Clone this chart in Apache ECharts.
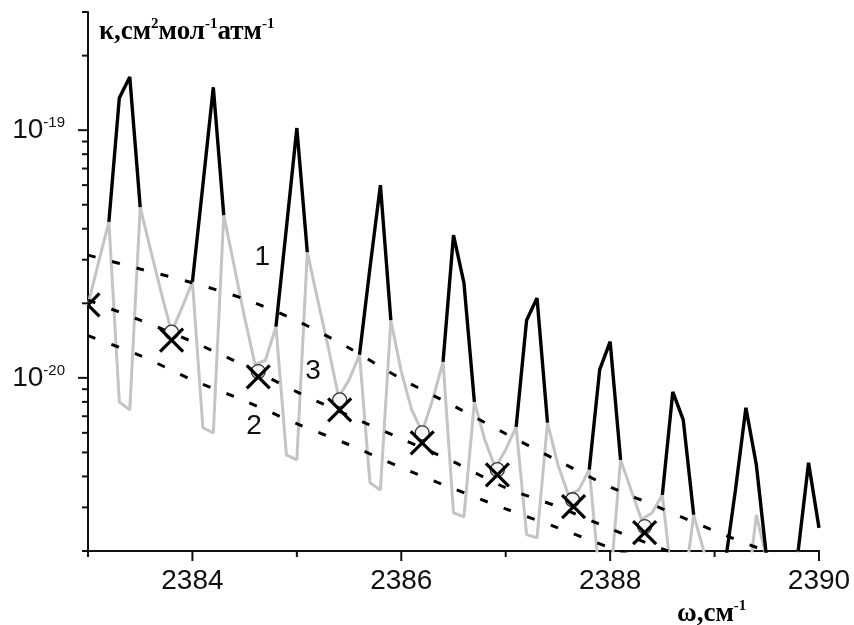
<!DOCTYPE html>
<html>
<head>
<meta charset="utf-8">
<script src="https://cdn.jsdelivr.net/npm/echarts@6/dist/echarts.min.js"></script>
<style>
html, body { margin: 0; padding: 0; background: #fff; }
#chart { width: 854px; height: 625px; }
</style>
</head>
<body>
<div id="chart"></div>
<script>
// Wavenumber grid of the computed spectra, cm^-1
const omega = [
  2383.0, 2383.1, 2383.2, 2383.3, 2383.4, 2383.5, 2383.6, 2383.7, 2383.8, 2383.9,
  2384.0, 2384.1, 2384.2, 2384.3, 2384.4, 2384.5, 2384.6, 2384.7, 2384.8, 2384.9,
  2385.0, 2385.1, 2385.2, 2385.3, 2385.4, 2385.5, 2385.6, 2385.7, 2385.8, 2385.9,
  2386.0, 2386.1, 2386.2, 2386.3, 2386.4, 2386.5, 2386.6, 2386.7, 2386.8, 2386.9,
  2387.0, 2387.1, 2387.2, 2387.3, 2387.4, 2387.5, 2387.6, 2387.7, 2387.8, 2387.9,
  2388.0, 2388.1, 2388.2, 2388.3, 2388.4, 2388.5, 2388.6, 2388.7, 2388.8, 2388.9,
  2389.0, 2389.1, 2389.2, 2389.3, 2389.4, 2389.5, 2389.6, 2389.7, 2389.8, 2389.9,
  2390.0
];

// Grey spectrum (line cores removed), cm^2 mol^-1 atm^-1
const kGrey = [
  1.97e-20, 2.91e-20, 4.26e-20, 8.00e-21, 7.43e-21, 4.89e-20, 3.28e-20, 2.22e-20, 1.53e-20, 1.92e-20,
  2.44e-20, 6.29e-21, 6.00e-21, 4.54e-20, 2.83e-20, 1.75e-20, 1.13e-20, 1.18e-20, 1.61e-20, 4.89e-21,
  4.67e-21, 3.22e-20, 2.06e-20, 1.33e-20, 8.38e-21, 9.81e-21, 1.24e-20, 3.77e-21, 3.53e-21, 1.71e-20,
  1.06e-20, 7.43e-21, 6.06e-21, 8.15e-21, 1.16e-20, 2.85e-21, 2.75e-21, 8.00e-21, 5.62e-21, 4.34e-21,
  5.13e-21, 6.34e-21, 2.33e-21, 2.26e-21, 6.59e-21, 4.46e-21, 3.37e-21, 3.53e-21, 4.26e-21, 1.53e-21,
  1.46e-21, 4.67e-21, 3.53e-21, 2.68e-21, 2.85e-21, 3.37e-21, 1.40e-21, 1.33e-21, 2.80e-21, 1.98e-21,
  1.61e-21, 1.76e-21, 1.27e-21, 1.22e-21, 2.80e-21, 1.85e-21, 1.40e-21, 1.27e-21, 1.99e-21, 1.16e-21,
  1.11e-21
];

// Black spectrum: line cores only (null where it coincides with the grey one)
const kBlack = [
  null, null, 4.26e-20, 1.35e-19, 1.64e-19, 4.89e-20, null, null, null, null,
  2.44e-20, 6.00e-20, 1.49e-19, 4.54e-20, null, null, null, null, 1.61e-20, 4.03e-20,
  1.02e-19, 3.22e-20, null, null, null, null, 1.24e-20, 2.78e-20, 6.00e-20, 1.71e-20,
  null, null, null, null, 1.16e-20, 3.77e-20, 2.42e-20, 8.00e-21, null, null,
  null, 6.34e-21, 1.71e-20, 2.10e-20, 6.59e-21, null, null, null, 4.26e-21, 1.08e-20,
  1.40e-20, 4.67e-21, null, null, null, 3.37e-21, 8.78e-21, 6.77e-21, 2.80e-21, null,
  null, 1.76e-21, 3.53e-21, 7.57e-21, 4.46e-21, 1.85e-21, null, null, 1.99e-21, 4.54e-21,
  2.48e-21
];

// Model curves 1, 2, 3 (dashed)
const curveOmega = [2383.0, 2383.5, 2384.0, 2384.5, 2385.0, 2385.5, 2386.0, 2386.5, 2387.0, 2387.5, 2388.0, 2388.5, 2389.0, 2389.5, 2390.0];
const curve1 = [3.13e-20, 2.75e-20, 2.42e-20, 2.08e-20, 1.70e-20, 1.32e-20, 9.91e-21, 7.71e-21, 5.95e-21, 4.63e-21, 3.63e-21, 2.96e-21, 2.41e-21, 1.99e-21, 1.64e-21];
const curve2 = [1.48e-20, 1.23e-20, 9.81e-21, 8.08e-21, 6.53e-21, 5.37e-21, 4.34e-21, 3.57e-21, 2.96e-21, 2.48e-21, 2.06e-21, 1.73e-21, 1.45e-21];
const curve3 = [2.06e-20, 1.71e-20, 1.40e-20, 1.12e-20, 8.78e-21, 7.03e-21, 5.68e-21, 4.58e-21, 3.60e-21, 3.02e-21, 2.46e-21, 2.04e-21, 1.68e-21, 1.40e-21];

// Minima between lines: circles (grey spectrum) and crosses (experiment)
const minOmega = [2383.80, 2384.63, 2385.41, 2386.20, 2386.92, 2387.64, 2388.33];
const minCircle = [1.53e-20, 1.06e-20, 8.15e-21, 6.00e-21, 4.26e-21, 3.22e-21, 2.51e-21];
const crossOmega = [2383.0, 2383.80, 2384.63, 2385.41, 2386.20, 2386.92, 2387.65, 2388.33];
const crossK = [1.97e-20, 1.42e-20, 1.01e-20, 7.43e-21, 5.47e-21, 4.06e-21, 3.02e-21, 2.37e-21];

// Curve numbers
const curveLabels = ['1', '2', '3'];
const curveLabelOmega = [2384.67, 2384.59, 2385.155];
const curveLabelK = [3.08e-20, 6.40e-21, 1.06e-20];

// Axis range and ticks
const xMin = 2383, xMax = 2390;
const yMin = 2e-21, yMax = 3e-19;
const xTicks = [2383, 2384, 2385, 2386, 2387, 2388, 2389, 2390];
const yMajorTicks = [1e-20, 1e-19];
const yMinorTicks = [2e-21, 3e-21, 4e-21, 5e-21, 6e-21, 7e-21, 8e-21, 9e-21,
                     2e-20, 3e-20, 4e-20, 5e-20, 6e-20, 7e-20, 8e-20, 9e-20,
                     2e-19, 3e-19];

// The log axis works in units of 1e-21 to keep its rounding well away from zero
const UNIT_EXP = -21;
const UNIT = 1e-21;
const u = k => (k === null ? '-' : k / UNIT);

const SANS = '"Liberation Sans", Arial, sans-serif';
const SERIF = '"Liberation Serif", "Times New Roman", serif';
const INK = '#111';

const tickData = [];
xTicks.forEach(v => tickData.push([v, u(yMin), v % 2 === 0 ? 1 : 0]));
yMajorTicks.forEach(v => tickData.push([xMin, u(v), 3]));
yMinorTicks.forEach(v => tickData.push([xMin, u(v), 2]));

const chart = echarts.init(document.getElementById('chart'), null, { renderer: 'canvas' });

const supRich = {
  b: { fontSize: 28, fontFamily: SANS, color: INK, lineHeight: 30 },
  s: { fontSize: 15, fontFamily: SANS, color: INK, lineHeight: 8, verticalAlign: 'top' }
};

const titleRich = {
  t: { fontSize: 27, fontFamily: SERIF, fontWeight: 'bold', color: INK, lineHeight: 30 },
  s: { fontSize: 15, fontFamily: SERIF, fontWeight: 'bold', color: INK, lineHeight: 14, verticalAlign: 'top' }
};

// short, widely spaced dashes of the model curves
const dashStyle = { color: '#000', width: 3, type: [8, 17] };

chart.setOption({
  animation: false,
  backgroundColor: '#fff',
  grid: { left: 88, right: 35, top: 12, bottom: 74, containLabel: false },
  xAxis: {
    type: 'value', min: xMin, max: xMax, interval: 1,
    axisLine: { show: true, lineStyle: { color: INK, width: 2 } },
    axisTick: { show: false },
    splitLine: { show: false },
    axisLabel: {
      margin: 16, fontSize: 28, fontFamily: SANS, color: INK,
      formatter: v => (Math.round(v) % 2 === 0 ? String(v) : '')
    }
  },
  yAxis: {
    type: 'log', logBase: 10, min: u(yMin), max: u(yMax),
    axisLine: { show: true, lineStyle: { color: INK, width: 2 } },
    axisTick: { show: false },
    splitLine: { show: false },
    axisLabel: {
      margin: 23,
      rich: supRich,
      formatter: v => {
        const e = Math.log10(v);
        if (Math.abs(e - Math.round(e)) > 1e-6) return '';
        return '{b|10}{s|' + (Math.round(e) + UNIT_EXP) + '}';
      }
    }
  },
  graphic: [
    {
      type: 'text', left: 99, top: 17, silent: true,
      style: { text: '{t|κ,см}{s|2}{t|мол}{s|-1}{t|атм}{s|-1}', rich: titleRich }
    },
    {
      type: 'text', left: 677, top: 599, silent: true,
      style: { text: '{t|ω,см}{s|-1}', rich: titleRich }
    }
  ],
  series: [
    {
      name: 'grey', type: 'line', z: 2, symbol: 'none',
      data: omega.map((w, i) => [w, u(kGrey[i])]),
      lineStyle: { color: '#c4c4c4', width: 3 }
    },
    {
      name: 'black', type: 'line', z: 3, symbol: 'none', connectNulls: false,
      data: omega.map((w, i) => [w, u(kBlack[i])]),
      lineStyle: { color: '#000', width: 3.4 }
    },
    {
      name: 'c1', type: 'line', z: 4, symbol: 'none', smooth: 0.3,
      data: curve1.map((k, i) => [curveOmega[i], u(k)]),
      lineStyle: dashStyle
    },
    {
      name: 'c2', type: 'line', z: 4, symbol: 'none', smooth: 0.3,
      data: curve2.map((k, i) => [curveOmega[i], u(k)]),
      lineStyle: dashStyle
    },
    {
      name: 'c3', type: 'line', z: 4, symbol: 'none', smooth: 0.3,
      data: curve3.map((k, i) => [curveOmega[i], u(k)]),
      lineStyle: dashStyle
    },
    {
      name: 'minima', type: 'scatter', z: 5, symbol: 'circle', symbolSize: 14,
      data: minCircle.map((k, i) => [minOmega[i], u(k)]),
      itemStyle: { color: '#f5f5f5', borderColor: '#333', borderWidth: 1.3, opacity: 1 }
    },
    {
      name: 'cross', type: 'custom', z: 6, clip: true, silent: true,
      data: crossK.map((k, i) => [crossOmega[i], u(k)]),
      renderItem: (params, api) => {
        const p = api.coord([api.value(0), api.value(1)]);
        const r = 11.5;
        const st = { stroke: '#000', lineWidth: 3.2, fill: null };
        return {
          type: 'group',
          children: [
            { type: 'line', shape: { x1: p[0] - r, y1: p[1] - r, x2: p[0] + r, y2: p[1] + r }, style: st },
            { type: 'line', shape: { x1: p[0] - r, y1: p[1] + r, x2: p[0] + r, y2: p[1] - r }, style: st }
          ]
        };
      }
    },
    {
      name: 'labels', type: 'scatter', z: 7, symbolSize: 1, silent: true,
      data: curveLabels.map((t, i) => [curveLabelOmega[i], u(curveLabelK[i]), t]),
      itemStyle: { color: 'rgba(0,0,0,0)', opacity: 1 },
      label: {
        show: true, position: 'inside', fontSize: 28, fontFamily: SANS, color: INK,
        opacity: 1, textBorderWidth: 0,
        formatter: p => p.value[2]
      }
    },
    {
      name: 'ticks', type: 'custom', z: 8, clip: false, silent: true,
      data: tickData,
      renderItem: (params, api) => {
        const p = api.coord([api.value(0), api.value(1)]);
        const kind = api.value(2);
        let shape;
        if (kind === 0 || kind === 1) {
          const len = kind === 1 ? 10 : 6;
          shape = { x1: p[0], y1: p[1], x2: p[0], y2: p[1] + len };
        } else {
          const len = kind === 3 ? 10 : 6;
          shape = { x1: p[0] - len, y1: p[1], x2: p[0], y2: p[1] };
        }
        return { type: 'line', shape: shape, style: { stroke: INK, lineWidth: 2 } };
      }
    }
  ]
});
</script>
</body>
</html>
